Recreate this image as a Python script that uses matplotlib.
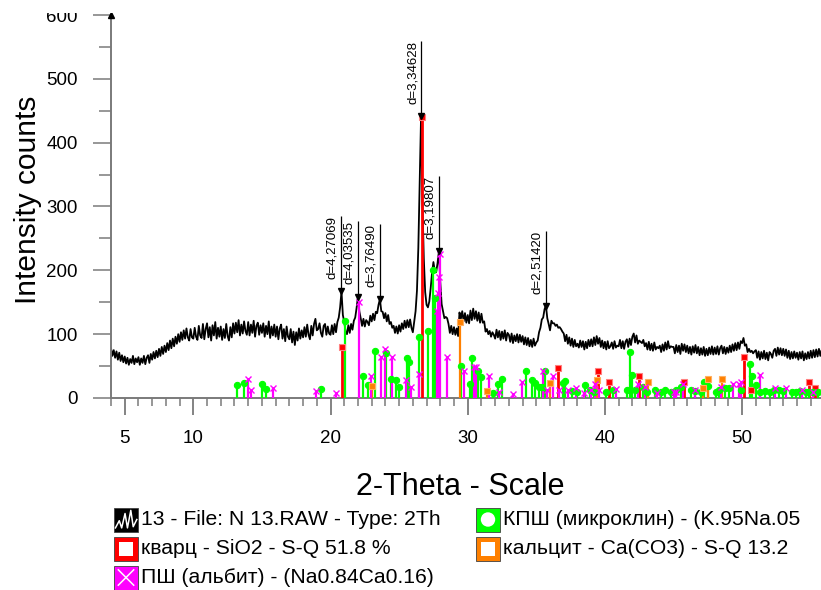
import matplotlib
matplotlib.use("Agg")
import matplotlib.pyplot as plt
import numpy as np
from matplotlib.patches import Rectangle, Circle
from matplotlib.ticker import FixedLocator, MultipleLocator

plt.rcParams["font.family"] = ["Liberation Sans", "DejaVu Sans"]

# measured pattern: 2-theta from 4.0 with 0.1 step
theta_start = 4.0
theta_step = 0.1
counts = [
    78, 66, 75, 63, 73, 60, 71, 58, 67, 56,
    65, 54, 63, 52, 61, 55, 66, 53, 62, 56,
    64, 52, 62, 55, 66, 53, 63, 67, 55, 69,
    60, 72, 62, 74, 64, 77, 66, 80, 69, 82,
    72, 86, 75, 90, 78, 93, 81, 96, 85, 100,
    88, 103, 91, 106, 93, 109, 95, 90, 108, 95,
    93, 110, 96, 91, 113, 98, 94, 116, 92, 108,
    117, 95, 111, 90, 114, 98, 119, 93, 110, 96,
    112, 91, 108, 94, 116, 97, 90, 111, 95, 117,
    101, 118, 103, 122, 98, 115, 101, 120, 105, 99,
    119, 98, 115, 102, 121, 96, 113, 118, 99, 114,
    102, 117, 96, 113, 100, 120, 94, 112, 98, 115,
    96, 112, 92, 109, 115, 93, 108, 89, 112, 96,
    92, 108, 87, 104, 83, 103, 90, 109, 93, 106,
    95, 111, 96, 115, 99, 92, 113, 98, 116, 124,
    106, 108, 117, 102, 96, 113, 116, 99, 112, 101,
    99, 114, 100, 116, 103, 119, 126, 142, 167, 130,
    119, 104, 100, 114, 102, 116, 107, 121, 126, 141,
    159, 136, 125, 113, 124, 112, 122, 119, 114, 129,
    120, 132, 122, 135, 133, 146, 155, 136, 135, 125,
    133, 120, 130, 116, 119, 110, 113, 102, 112, 101,
    114, 104, 117, 108, 121, 110, 122, 111, 123, 110,
    103, 120, 136, 168, 235, 335, 442, 305, 218, 166,
    146, 142, 151, 172, 196, 213, 199, 197, 211, 230,
    182, 147, 136, 125, 127, 125, 116, 102, 113, 100,
    111, 99, 109, 97, 134, 124, 136, 120, 133, 118,
    130, 117, 137, 122, 140, 124, 136, 121, 134, 118,
    132, 118, 120, 104, 108, 100, 105, 96, 103, 99,
    93, 107, 95, 105, 91, 104, 93, 106, 90, 102,
    99, 88, 101, 86, 98, 89, 100, 87, 99, 88,
    97, 84, 95, 83, 94, 81, 91, 80, 93, 82,
    87, 90, 103, 110, 123, 126, 139, 145, 125, 116,
    106, 121, 117, 117, 113, 115, 110, 111, 108, 104,
    101, 89, 99, 85, 95, 82, 93, 80, 91, 81,
    85, 79, 90, 80, 89, 76, 88, 78, 91, 81,
    92, 81, 95, 83, 97, 85, 94, 80, 90, 78,
    88, 76, 89, 78, 81, 87, 77, 89, 79, 82,
    81, 91, 78, 89, 77, 88, 92, 80, 93, 83,
    96, 101, 87, 98, 85, 90, 88, 86, 91, 81,
    86, 76, 88, 75, 85, 74, 87, 76, 80, 78,
    82, 72, 84, 74, 87, 76, 89, 78, 81, 80,
    80, 70, 83, 72, 82, 69, 85, 74, 84, 72,
    82, 70, 80, 68, 81, 71, 83, 70, 80, 67,
    78, 68, 80, 66, 77, 67, 79, 69, 81, 68,
    79, 69, 81, 68, 78, 82, 70, 80, 69, 79,
    71, 82, 72, 84, 74, 86, 75, 87, 77, 89,
    86, 94, 82, 84, 72, 77, 72, 74, 70, 73,
    75, 63, 73, 60, 72, 62, 74, 61, 71, 59,
    72, 69, 63, 74, 77, 66, 79, 68, 78, 67,
    77, 66, 76, 63, 74, 61, 72, 62, 73, 63,
    71, 60, 72, 62, 73, 59, 70, 61, 72, 62,
    74, 63, 75, 64, 76, 65, 77, 66, 75, 64,
]

# peak labels (d-spacings)
d_pos = [20.78, 22.01, 23.61, 26.62, 27.88, 35.68]
d_height = [167, 159, 155, 442, 230, 144]
d_text = ["d=4,27069", "d=4,03535", "d=3,76490", "d=3,34628", "d=3,19807", "d=2,51420"]

# reference sticks
quartz_pos = [20.86, 26.64, 36.55, 39.47, 40.29, 42.45, 45.80, 50.14, 50.62, 54.87, 55.33]
quartz_int = [80, 440, 47, 43, 25, 34, 25, 65, 13, 25, 16]

micro_pos = [13.19, 13.73, 15.00, 15.31, 19.33, 21.06, 22.39, 22.70, 23.26, 24.07,
             24.38, 24.79, 24.99, 25.59, 25.71, 26.48, 27.10, 27.46, 27.59, 29.48,
             30.14, 30.28, 30.77, 31.00, 31.85, 32.21, 32.52, 34.25, 34.69, 34.92,
             35.22, 35.41, 35.62, 36.97, 37.09, 37.62, 38.00, 38.58, 38.90, 39.18,
             40.08, 40.56, 41.60, 41.83, 41.96, 42.20, 42.80, 43.09, 43.64, 44.12,
             44.36, 44.80, 45.20, 45.57, 46.24, 46.60, 47.00, 47.20, 47.49, 48.10,
             48.30, 48.77, 49.05, 49.90, 50.58, 50.70, 50.98, 51.30, 51.70, 52.00,
             52.30, 52.66, 53.00, 53.62, 53.90, 54.20, 54.66, 54.90, 55.20, 55.50]
micro_int = [20, 24, 22, 14, 14, 121, 35, 20, 73, 71,
             30, 28, 18, 62, 57, 96, 105, 200, 157, 50,
             22, 62, 43, 33, 8, 22, 30, 43, 28, 23,
             18, 18, 43, 23, 27, 11, 10, 20, 12, 10,
             10, 12, 12, 72, 36, 12, 18, 10, 12, 10,
             12, 10, 12, 18, 12, 11, 10, 25, 19, 10,
             12, 15, 15, 12, 53, 35, 20, 9, 11, 10,
             12, 12, 11, 10, 9, 11, 10, 9, 10, 10]

calcite_pos = [23.06, 29.41, 31.43, 35.97, 39.40, 43.16, 47.12, 47.50, 48.51]
calcite_int = [19, 119, 11, 24, 28, 25, 15, 30, 30]

albite_pos = [13.96, 14.20, 15.79, 18.97, 20.41, 22.05, 22.94, 23.69, 23.95, 24.45,
              25.52, 25.90, 26.48, 27.75, 27.80, 27.88, 27.95, 28.48, 29.73, 30.45,
              30.57, 31.56, 32.28, 33.29, 33.94, 35.50, 35.75, 36.22, 36.66, 37.33,
              37.86, 38.46, 38.95, 39.31, 39.60, 40.80, 42.44, 42.92, 43.83, 45.03,
              45.20, 45.68, 46.53, 48.45, 49.30, 49.78, 49.94, 51.29, 52.42, 53.22,
              54.35, 55.20]
albite_int = [30, 12, 15, 11, 8, 150, 34, 65, 76, 65,
              28, 17, 37, 136, 164, 190, 226, 65, 43, 49,
              48, 34, 10, 7, 25, 42, 12, 35, 12, 12,
              16, 8, 12, 22, 12, 14, 22, 17, 8, 10,
              10, 22, 12, 17, 22, 22, 25, 36, 15, 15,
              12, 10]

legend_labels = ["13 - File: N 13.RAW - Type: 2Th",
                 "КПШ (микроклин) - (K.95Na.05",
                 "кварц - SiO2 - S-Q 51.8 %",
                 "кальцит - Ca(CO3) - S-Q 13.2",
                 "ПШ (альбит) - (Na0.84Ca0.16)"]

RED = "#ff0000"
GREEN = "#00ff00"
ORANGE = "#ff8000"
MAGENTA = "#ff00ff"
GRAY = "#7a7a7a"

W, H = 821, 590
fig = plt.figure(figsize=(W / 100, H / 100), dpi=100)
ax = fig.add_axes([111 / W, 192 / H, 1 - 111 / W, 383 / H])

two_theta = theta_start + theta_step * np.arange(len(counts))
ax.plot(two_theta, counts, color="black", lw=1.3, zorder=2)


def sticks(pos, val, color, marker, ms, lw, mec=None, mew=0.8):
    ax.vlines(pos, 0, val, color=color, lw=lw, zorder=3)
    ax.plot(pos, val, ls="none", marker=marker, ms=ms, color=color,
            mec=mec if mec else color, mew=mew, zorder=4)


sticks(quartz_pos, quartz_int, RED, "s", 4.8, 2.0, mec="#ff8080")
sticks(micro_pos, micro_int, GREEN, "o", 4.5, 1.6)
sticks(calcite_pos, calcite_int, ORANGE, "s", 4.8, 1.6, mec="#ffb060")
sticks(albite_pos, albite_int, MAGENTA, "x", 4.2, 1.6, mew=1.0)

label_len = 118
for p, h, t in zip(d_pos, d_height, d_text):
    ax.vlines(p, h, h + label_len, color="black", lw=0.9, zorder=5)
    ax.plot(p, h, marker="v", ms=5, color="black", zorder=6)
    ax.annotate(t, (p, h + label_len), xytext=(-2, 0), textcoords="offset points",
                rotation=90, ha="right", va="top", fontsize=9.5, zorder=6)

ax.set_xlim(4, 55.75)
ax.set_ylim(0, 600)
for s in ["top", "right"]:
    ax.spines[s].set_visible(False)
for s in ["left", "bottom"]:
    ax.spines[s].set_color(GRAY)
    ax.spines[s].set_linewidth(1.4)

ax.xaxis.set_major_locator(FixedLocator([5, 10, 20, 30, 40, 50]))
ax.xaxis.set_minor_locator(MultipleLocator(1))
ax.yaxis.set_major_locator(MultipleLocator(100))
ax.yaxis.set_minor_locator(MultipleLocator(50))
ax.tick_params(axis="x", which="major", length=12, width=1.3, color=GRAY, pad=11, labelsize=13.5)
ax.tick_params(axis="x", which="minor", length=6, width=1.1, color=GRAY)
ax.tick_params(axis="y", which="major", length=13, width=1.1, color=GRAY, pad=11, labelsize=13.5)
ax.tick_params(axis="y", which="minor", length=9, width=1.1, color=GRAY)
ax.plot(0, 1, marker="^", ms=4, color="black", transform=ax.transAxes, clip_on=False, zorder=7)

fig.text(28 / W, 1 - 200 / H, "Intensity counts", rotation=90, ha="center", va="center", fontsize=21.5)
fig.text(460 / W, 1 - 487 / H, "2-Theta - Scale", ha="center", va="center", fontsize=22)

# legend drawn in pixel coordinates
lg = fig.add_axes([0, 0, 1, 1])
lg.set_xlim(0, W)
lg.set_ylim(H, 0)
lg.axis("off")
lg.patch.set_alpha(0)

# the source image is cropped just above the y axis top
lg.add_patch(Rectangle((0, 0), W, 13, facecolor="white", edgecolor="none", zorder=10))

icon = 24
rows = [519.5, 549, 577.5]
cols = [114, 476]
slots = [(cols[0], rows[0]), (cols[1], rows[0]), (cols[0], rows[1]), (cols[1], rows[1]), (cols[0], rows[2])]
fills = ["black", GREEN, RED, ORANGE, MAGENTA]
for i, ((x0, yc), fc, lab) in enumerate(zip(slots, fills, legend_labels)):
    y0 = yc - icon / 2
    lg.add_patch(Rectangle((x0, y0), icon, icon, facecolor=fc, edgecolor="#404040", lw=0.6))
    if i == 0:
        zx = [0.06, 0.22, 0.32, 0.46, 0.56, 0.70, 0.80, 0.95]
        zy = [0.85, 0.55, 0.85, 0.25, 0.85, 0.12, 0.80, 0.50]
        lg.plot([x0 + a * icon for a in zx], [y0 + b * icon for b in zy], color="white", lw=1.1)
    elif i == 1:
        lg.add_patch(Circle((x0 + icon / 2, yc), icon * 0.3, facecolor="white", edgecolor="none"))
    elif i in (2, 3):
        lg.add_patch(Rectangle((x0 + icon * 0.22, y0 + icon * 0.22), icon * 0.56, icon * 0.56,
                               facecolor="white", edgecolor="none"))
    else:
        lg.plot([x0 + 0.18 * icon, x0 + 0.82 * icon], [y0 + 0.18 * icon, y0 + 0.82 * icon], color="white", lw=1.1)
        lg.plot([x0 + 0.18 * icon, x0 + 0.82 * icon], [y0 + 0.82 * icon, y0 + 0.18 * icon], color="white", lw=1.1)
    lg.text(x0 + icon + 3, yc, lab, ha="left", va="center", fontsize=15.2)

fig.savefig("out.png", dpi=100)
